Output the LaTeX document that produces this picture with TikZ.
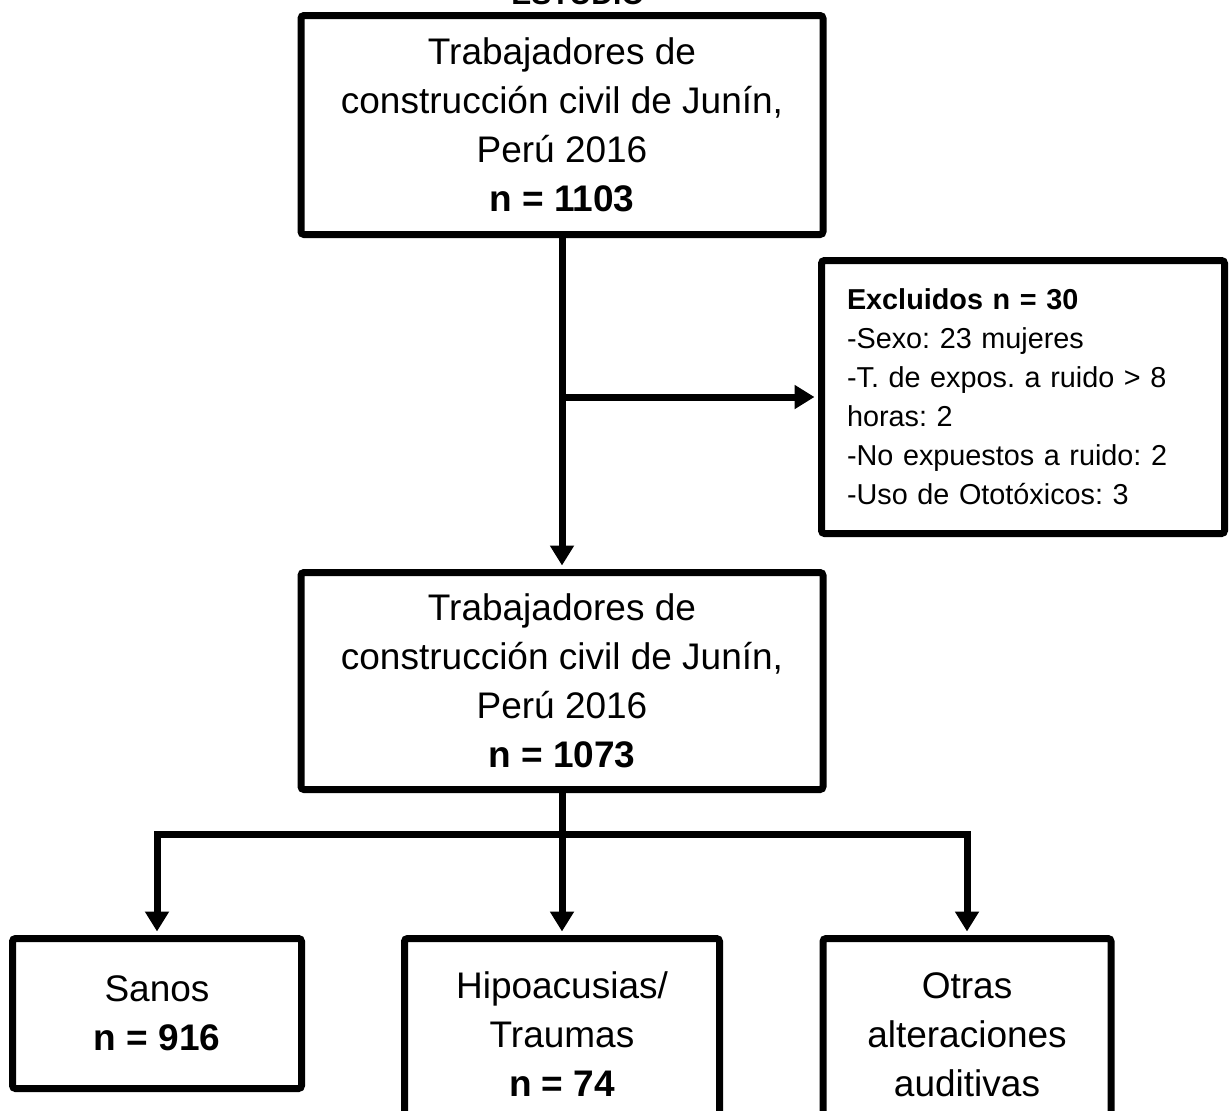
\documentclass[tikz,border=0pt]{standalone}
\usepackage{fontspec}
\setmainfont{Liberation Sans}
\usetikzlibrary{arrows.meta}
\frenchspacing
\begin{document}
\begin{tikzpicture}[x=0.5pt,y=-0.5pt,
  box/.style={draw, line width=3.5pt, rounded corners=1.5pt, inner sep=0pt,
    align=center, font=\fontsize{18.5pt}{24.5pt}\selectfont},
  arr/.style={line width=3.5pt, -{Triangle[width=11.5pt,length=10pt]}, shorten >=1.75pt},
  ln/.style={line width=3.5pt}]
\useasboundingbox (0,0) rectangle (1230,1110);
\fill[white] (0,0) rectangle (1230,1110);

\node[font=\bfseries\fontsize{15pt}{18pt}\selectfont, anchor=base] (est) at (578,4) {ESTUDIO};

\node[box, minimum width=261pt, minimum height=109.5pt] (b1) at (562,125)
  {Trabajadores de\\construcción civil de Junín,\\Perú 2016\\\textbf{n = 1103}};
\node[box, minimum width=261pt, minimum height=108.5pt] (b2) at (562,681)
  {Trabajadores de\\construcción civil de Junín,\\Perú 2016\\\textbf{n = 1073}};
\node[box, align=left, text width=176pt, inner xsep=12.75pt, minimum height=136.5pt,
  font=\fontsize{14.4pt}{19.5pt}\selectfont] (ex) at (1023,397)
  {\textbf{Excluidos n = 30}\\-Sexo: 23 mujeres\\-T. de expos. a ruido > 8\\horas: 2\\-No expuestos a ruido: 2\\-Uso de Ototóxicos: 3};

\node[box, minimum width=144.5pt, minimum height=75pt] (s) at (157,1013.5)
  {Sanos\\\textbf{n = 916}};
\node[box, minimum width=157.5pt, minimum height=96pt] (h) at (562,1034.5)
  {Hipoacusias/\\Traumas\\\textbf{n = 74}};
\node[box, minimum width=144pt, minimum height=96pt] (o) at (967,1034.5)
  {Otras\\alteraciones\\auditivas};

\coordinate (br) at (562,397);
\coordinate (hy) at (562,834);

\draw[arr] (b1.south) -- (b2.north);
\draw[arr] (br) -- (ex.west);
\draw[ln] (b2.south) -- (hy);
\draw[ln, line cap=rect] (s.north |- hy) -- (o.north |- hy);
\draw[arr] (s.north |- hy) -- (s.north);
\draw[arr] (hy) -- (h.north);
\draw[arr] (o.north |- hy) -- (o.north);
\end{tikzpicture}
\end{document}
